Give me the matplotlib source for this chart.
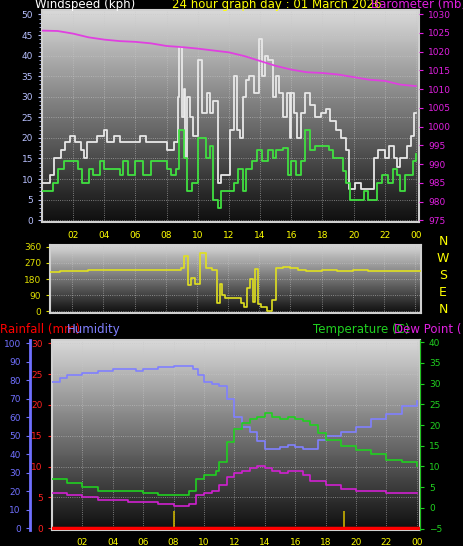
import matplotlib
matplotlib.use("Agg")
import matplotlib.pyplot as plt
import numpy as np

# windspeed gust (kph)
gust_t = [0, 0.5, 0.8, 1.2, 1.5, 1.8, 2.1, 2.5, 2.7, 2.9, 3.5, 4.0, 4.2, 4.6, 5.0, 6.3, 6.7, 8.0, 8.5, 8.7, 8.8, 9.0, 9.1, 9.2, 9.3, 9.5, 9.7, 10.0, 10.3, 10.6, 10.8, 11.0, 11.3, 11.5, 12.1, 12.3, 12.5, 12.7, 12.9, 13.1, 13.3, 13.6, 13.9, 14.1, 14.3, 14.5, 14.8, 15.0, 15.2, 15.5, 15.7, 15.9, 16.0, 16.2, 16.4, 16.6, 16.9, 17.2, 17.5, 17.9, 18.2, 18.5, 18.9, 19.2, 19.5, 19.7, 20.1, 20.5, 21.0, 21.3, 21.6, 22.0, 22.3, 22.6, 22.8, 23.0, 23.4, 23.7, 23.9, 24.0]
gust_v = [9, 11, 15, 17, 19, 20.5, 19, 17, 15, 19, 20.5, 22, 19, 20.5, 19, 20.5, 19, 17, 19, 30, 42, 25, 32, 15, 30, 25, 20.5, 39, 26, 31, 26, 29, 9, 11, 22, 35, 22, 20, 30, 34, 35, 31, 44, 35, 40, 39, 30, 35, 31, 25, 31, 20, 31, 26, 20, 26, 31, 28, 25, 26, 27, 24, 22, 20, 17, 7.5, 9, 7.5, 7.5, 15, 17, 15, 18, 15, 13, 15, 18, 20.5, 26, 26]
# windspeed average
avg_t = [0, 0.7, 1.0, 1.4, 2.3, 2.6, 3.0, 3.3, 3.7, 4.0, 5.0, 5.2, 5.5, 6.0, 6.5, 7.0, 8.0, 8.3, 8.6, 8.8, 9.1, 9.3, 9.6, 10.0, 10.5, 10.8, 11.0, 11.3, 11.5, 12.0, 12.3, 12.6, 12.9, 13.1, 13.5, 13.8, 14.1, 14.5, 14.8, 15.0, 15.5, 15.8, 16.0, 16.3, 16.6, 16.9, 17.2, 17.5, 18.4, 18.7, 19.3, 19.5, 19.8, 20.5, 20.7, 20.9, 21.5, 21.8, 22.2, 22.5, 22.8, 23.0, 23.3, 23.8, 24.0]
avg_v = [7, 9, 12.5, 14.5, 12.5, 9, 12.5, 11, 14.5, 12.5, 11, 14.5, 11, 14.5, 11, 14.5, 12.5, 11, 12.5, 22, 15, 7, 9, 20, 15, 18, 5, 3, 7, 7, 9, 12.5, 7, 12.5, 14.5, 17, 14.5, 17, 15, 17, 17.5, 11, 14.5, 11, 14.5, 22, 17, 18, 17, 15, 12, 9, 5, 5, 7, 5, 9, 11, 9, 12.5, 11, 7, 11, 14.5, 16]
# barometer (mb)
baro_t = list(range(25))
baro_v = [1025.6, 1025.5, 1024.8, 1023.8, 1023.2, 1022.8, 1022.6, 1022.2, 1021.5, 1021.2, 1020.8, 1020.3, 1019.8, 1018.8, 1017.5, 1016.2, 1015.2, 1014.5, 1014.3, 1013.9, 1013.2, 1012.5, 1012.2, 1011.2, 1010.8]
# wind direction (deg)
dir_t = [0.6, 1.2, 3, 5, 8.5, 9.0, 9.2, 9.4, 9.6, 9.9, 10.2, 10.6, 11.0, 11.3, 11.5, 11.6, 11.8, 12.6, 12.8, 13.0, 13.2, 13.4, 13.6, 13.7, 13.9, 14.1, 14.5, 14.8, 15.1, 15.5, 16.0, 16.5, 17, 18, 19, 20, 21, 22, 24.4]
dir_v = [220, 225, 230, 228, 230, 240, 310, 145, 185, 155, 325, 240, 230, 45, 150, 90, 75, 75, 45, 25, 130, 180, 50, 235, 40, 25, 5, 65, 240, 245, 240, 230, 225, 228, 225, 230, 225, 225, 225]
# humidity, temperature, dew point
hum_t = [0, 0.5, 1, 2, 3, 4, 5, 5.5, 6, 7, 8, 9, 9.3, 9.6, 10, 10.5, 11, 11.5, 12, 12.5, 13, 13.5, 14, 14.5, 15, 15.5, 16, 16.5, 17, 17.5, 18, 19, 20, 21, 22, 23, 24]
hum_v = [79, 81, 83, 84, 85, 86, 86, 85, 86, 87, 88, 88, 86, 83, 79, 78, 77, 70, 60, 55, 52, 47, 43, 43, 44, 45, 44, 43, 43, 48, 50, 52, 55, 59, 62, 66, 69]
tmp_t = [0, 1, 2, 3, 4, 5, 6, 7, 8, 8.5, 9, 9.5, 10, 10.8, 11, 11.5, 12, 12.5, 13, 13.5, 14, 14.5, 15, 15.5, 16, 16.5, 17, 17.5, 18, 19, 20, 21, 22, 23, 24]
tmp_v = [7, 6, 5, 4, 4, 4, 3.5, 3, 3, 3, 4, 7, 8, 9, 11, 16, 19, 20.5, 21.5, 22, 23, 22, 21.5, 22, 21.5, 21, 20, 18, 16.5, 15, 14, 13, 11.5, 11, 10]
dew_t = [0, 1, 2, 3, 4, 5, 6, 7, 8, 9, 9.5, 10, 10.5, 11, 11.5, 12, 12.5, 13, 13.5, 14, 14.5, 15, 15.5, 16, 16.5, 17, 18, 19, 20, 21, 22, 23, 24]
dew_v = [3.5, 3, 2.5, 2, 2, 1.5, 1.5, 1, 0.5, 1, 3, 3.5, 4, 5.5, 7.5, 8.5, 9, 9.5, 10, 9.5, 9, 8.5, 9, 9, 8, 6.5, 5.5, 4.5, 4, 4, 3.5, 3.5, 3.5]
rain_marks = [8.0, 19.2]

hour_ticks = [2, 4, 6, 8, 10, 12, 14, 16, 18, 20, 22, 24]
hour_labels = ["02", "04", "06", "08", "10", "12", "14", "16", "18", "20", "22", "00"]

fs = 6.5

#_____________________________________________________________________________
def gradient(ax):
    g = np.linspace(0.85, 0.06, 100).reshape(-1, 1)
    ax.imshow(g, aspect="auto", cmap="gray", vmin=0, vmax=1, extent=(0, 1, 0, 1),
              transform=ax.transAxes, zorder=0)
    ax.grid(True, color="#c8c8c8", lw=0.6, ls=":", alpha=0.7)

def style(ax, lcol):
    for s in ax.spines.values():
        s.set_color("#d0d0d0")
        s.set_linewidth(1.5)
    ax.tick_params(axis="x", colors="yellow", labelsize=fs, length=0, pad=6)
    ax.tick_params(axis="y", colors=lcol, labelsize=fs, length=3)
    ax.set_xticks(hour_ticks)
    ax.set_xticklabels(hour_labels)

fig = plt.figure(figsize=(4.64, 5.46), dpi=100, facecolor="black")

# panel 1
ax1 = fig.add_axes([0.0905, 0.593, 0.8125, 0.388])
gradient(ax1)
style(ax1, "#b8c0ff")
ax1.step(gust_t, gust_v, where="post", color="#e8e8e8", lw=1.3, zorder=3)
ax1.step(avg_t, avg_v, where="post", color="#40e040", lw=1.3, zorder=4)
ax1.set_xlim(0, 24.2)
ax1.set_ylim(-0.5, 51)
ax1.set_yticks(range(0, 51, 5))
ax1.set_yticks(np.arange(0, 51, 1), minor=True)
ax1.tick_params(axis="y", which="minor", colors="#b8c0ff", length=2)
ax1b = ax1.twinx()
ax1b.plot(baro_t, baro_v, color="#e040e0", lw=1.3)
ax1b.set_ylim(974.5, 1031)
ax1b.set_yticks(range(975, 1031, 5))
ax1b.tick_params(axis="y", colors="#e020e0", labelsize=fs, length=3)
for s in ax1b.spines.values():
    s.set_visible(False)

fig.text(0.075, 1.004, "Windspeed (kph)", color="white", fontsize=8.5, ha="left", va="top")
fig.text(0.371, 1.004, "24 hour graph day : 01 March 2026", color="yellow", fontsize=8.5, ha="left", va="top")
fig.text(0.80, 1.004, "Barometer (mb)", color="#e020e0", fontsize=8.5, ha="left", va="top")

# panel 2
ax2 = fig.add_axes([0.108, 0.427, 0.80, 0.125])
gradient(ax2)
style(ax2, "#e0e000")
ax2.plot(dir_t, dir_v, color="#e0e020", lw=1.2, drawstyle="steps-post", zorder=3)
ax2.set_xlim(0.58, 24.4)
ax2.set_ylim(-8, 372)
ax2.set_yticks([0, 90, 180, 270, 360])
ax2.set_xticklabels([])
for i, c in enumerate("NWSEN"):
    fig.text(0.955, 0.558 - i * 0.031, c, color="yellow", fontsize=9, ha="center", va="center")

# panel 3
ax3 = fig.add_axes([0.112, 0.029, 0.793, 0.348])
gradient(ax3)
style(ax3, "#ff2020")
ax3.set_xlim(0, 24.2)
ax3.set_ylim(-0.3, 30.5)
ax3.set_yticks(range(0, 31, 5))
ax3.axhline(0, color="red", lw=2.5, zorder=5)
ax3.vlines(rain_marks, 0, 2.8, color="#c8b000", lw=1.2, zorder=4)

axh = ax3.twinx()
axh.spines["right"].set_visible(False)
axh.spines["left"].set_position(("outward", 16))
axh.spines["left"].set_color("#7070ff")
axh.spines["left"].set_linewidth(2)
axh.yaxis.set_label_position("left")
axh.yaxis.set_ticks_position("left")
axh.plot(hum_t, hum_v, color="#8080ff", lw=1.2, drawstyle="steps-post")
axh.set_ylim(-1, 101.7)
axh.set_yticks(range(0, 101, 10))
axh.tick_params(axis="y", colors="#7070ff", labelsize=fs, length=3)
for k in ["top", "bottom"]:
    axh.spines[k].set_visible(False)

axt = ax3.twinx()
for k in ["top", "bottom", "left"]:
    axt.spines[k].set_visible(False)
axt.spines["right"].set_color("#20c020")
axt.plot(tmp_t, tmp_v, color="#20d020", lw=1.2, drawstyle="steps-post")
axt.plot(dew_t, dew_v, color="#d020d0", lw=1.2, drawstyle="steps-post")
axt.set_ylim(-5.4, 40.5)
axt.set_yticks(range(-5, 41, 5))
axt.tick_params(axis="y", colors="#20d020", labelsize=fs, length=3)

fig.text(0.0, 0.397, "Rainfall (mm)", color="red", fontsize=8.5, ha="left", va="center")
fig.text(0.145, 0.397, "Humidity", color="#8080ff", fontsize=8.5, ha="left", va="center")
fig.text(0.675, 0.397, "Temperature (C)", color="#20d020", fontsize=8.5, ha="left", va="center")
fig.text(0.85, 0.397, "Dew Point (", color="#e020e0", fontsize=8.5, ha="left", va="center")

fig.savefig("out.png", dpi=100, facecolor="black")
